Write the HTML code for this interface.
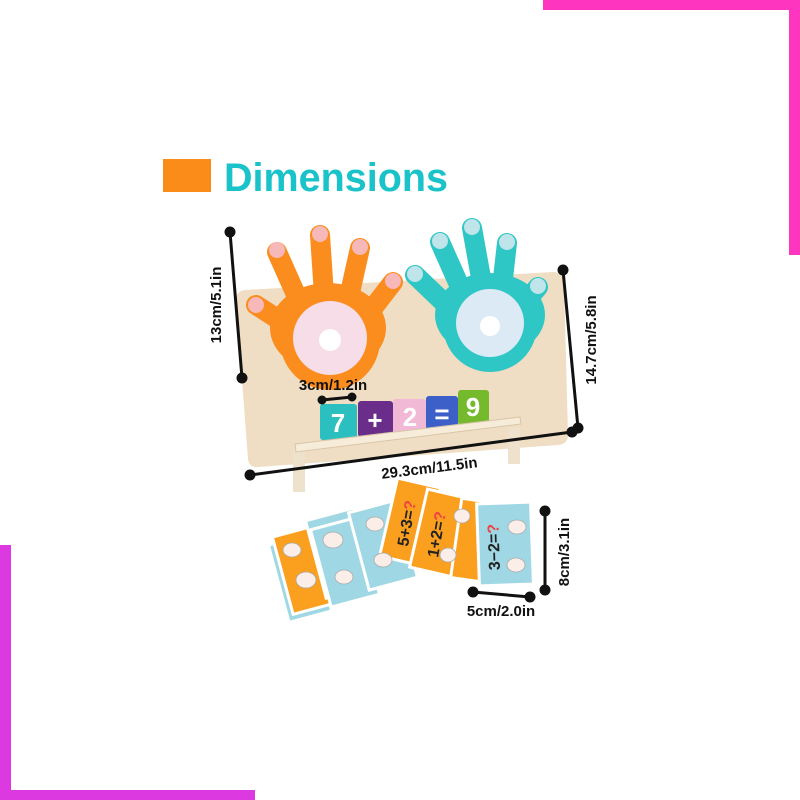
<!DOCTYPE html>
<html><head><meta charset="utf-8"><style>
html,body{margin:0;padding:0;background:#fff;width:800px;height:800px;overflow:hidden}
svg{display:block}
text{font-family:"Liberation Sans",sans-serif;font-weight:bold}
</style></head><body>
<svg width="800" height="800" viewBox="0 0 800 800" xmlns="http://www.w3.org/2000/svg">
<rect x="543" y="0" width="257" height="10" fill="#fe35bf"/>
<rect x="789" y="0" width="11" height="255" fill="#fe35bf"/>
<rect x="0" y="545" width="11" height="255" fill="#dc3ae0"/>
<rect x="0" y="790" width="255" height="10" fill="#dc3ae0"/>

<rect x="163" y="159" width="48" height="33" fill="#fb8c1a"/>
<text x="224" y="191" font-size="40" fill="#1ac3c9" textLength="224" lengthAdjust="spacingAndGlyphs">Dimensions</text>

<!-- board -->
<path d="M245 290 L553 272 Q563 272 564 282 L568 435 Q568 444 558 445 L258 467 Q249 468 248 459 L236 300 Q236 291 245 290 Z" fill="#efdec3"/>
<rect x="293" y="448" width="12" height="44" fill="#efe2cc"/>
<rect x="508" y="428" width="12" height="36" fill="#efe2cc"/>
<!-- orange hand -->
<g stroke="#fb8c1e" stroke-width="20" stroke-linecap="round">
<line x1="295" y1="330" x2="256" y2="305"/>
<line x1="305" y1="315" x2="277" y2="252"/>
<line x1="325" y1="310" x2="320" y2="235"/>
<line x1="345" y1="315" x2="360" y2="248"/>
<line x1="360" y1="325" x2="393" y2="282"/>
</g>
<ellipse cx="328" cy="328" rx="58" ry="45" fill="#fb8c1e"/>
<circle cx="330" cy="340" r="50" fill="#fb8c1e"/>
<circle cx="330" cy="338" r="37" fill="#f6dde8"/>
<circle cx="330" cy="340" r="11" fill="#fff"/>
<g fill="#f6b8b8"><circle cx="256" cy="305" r="8"/><circle cx="277" cy="250" r="8"/><circle cx="320" cy="234" r="8"/><circle cx="360" cy="247" r="8"/><circle cx="393" cy="281" r="8"/></g>
<!-- teal hand -->
<g stroke="#2fc6c6" stroke-width="20" stroke-linecap="round">
<line x1="460" y1="318" x2="415" y2="275"/>
<line x1="468" y1="305" x2="440" y2="242"/>
<line x1="485" y1="300" x2="472" y2="228"/>
<line x1="500" y1="305" x2="507" y2="243"/>
<line x1="512" y1="318" x2="538" y2="287"/>
</g>
<ellipse cx="490" cy="315" rx="55" ry="42" fill="#2fc6c6"/>
<circle cx="490" cy="325" r="47" fill="#2fc6c6"/>
<circle cx="490" cy="323" r="34" fill="#dceaf5"/>
<circle cx="490" cy="326" r="10" fill="#fff"/>
<g fill="#bfe4ea"><circle cx="415" cy="274" r="8"/><circle cx="440" cy="241" r="8"/><circle cx="472" cy="227" r="8"/><circle cx="507" cy="242" r="8"/><circle cx="538" cy="286" r="8"/></g>
<!-- tiles -->
<rect x="320" y="404" width="37" height="36" rx="3" fill="#2cbfc0"/>
<rect x="358" y="401" width="35" height="36" rx="3" fill="#6a2e8a"/>
<rect x="393" y="399" width="33" height="35" rx="3" fill="#f2b9d6"/>
<rect x="426" y="396" width="32" height="35" rx="3" fill="#3c5fc8"/>
<rect x="458" y="390" width="31" height="35" rx="3" fill="#74ba2c"/>
<g fill="#fff" font-size="26" text-anchor="middle">
<text x="338" y="432">7</text><text x="375" y="429">+</text><text x="410" y="426">2</text><text x="442" y="423">=</text><text x="473" y="416">9</text></g>
<polygon points="295,444 520,417 521,424 296,452" fill="#f7ecd9" stroke="#d8c6a8" stroke-width="1"/>
<!-- dims -->
<g stroke="#111" stroke-width="3" fill="#111">
<line x1="230" y1="232" x2="242" y2="378"/><circle cx="230" cy="232" r="4"/><circle cx="242" cy="378" r="4"/>
<line x1="563" y1="270" x2="578" y2="428"/><circle cx="563" cy="270" r="4"/><circle cx="578" cy="428" r="4"/>
<line x1="250" y1="475" x2="572" y2="432"/><circle cx="250" cy="475" r="4"/><circle cx="572" cy="432" r="4"/>
<line x1="322" y1="400" x2="352" y2="397"/><circle cx="322" cy="400" r="3"/><circle cx="352" cy="397" r="3"/>
<line x1="545" y1="511" x2="545" y2="590"/><circle cx="545" cy="511" r="4"/><circle cx="545" cy="590" r="4"/>
<line x1="473" y1="592" x2="530" y2="597"/><circle cx="473" cy="592" r="4"/><circle cx="530" cy="597" r="4"/>
</g>
<g fill="#111" font-size="15">
<text transform="translate(221,305) rotate(-90)" text-anchor="middle">13cm/5.1in</text>
<text transform="translate(596,340) rotate(-90)" text-anchor="middle">14.7cm/5.8in</text>
<text transform="translate(430,473) rotate(-7)" text-anchor="middle">29.3cm/11.5in</text>
<text x="333" y="390" text-anchor="middle">3cm/1.2in</text>
<text transform="translate(569,552) rotate(-90)" text-anchor="middle">8cm/3.1in</text>
<text x="501" y="616" text-anchor="middle">5cm/2.0in</text>
</g>
<!-- cards -->
<g stroke="#fff" stroke-width="3">
<rect x="-22" y="-40" width="44" height="80" fill="#9fd8e4" transform="translate(300,578) rotate(-15)"/>
<rect x="-22" y="-40" width="44" height="80" fill="#fb9f1e" transform="translate(304,570) rotate(-15)"/>
<rect x="-25" y="-40" width="50" height="80" fill="#9fd8e4" transform="translate(340,553) rotate(-15)"/>
<rect x="-25" y="-40" width="50" height="80" fill="#9fd8e4" transform="translate(345,562) rotate(-15)"/>
<rect x="-25" y="-40" width="50" height="80" fill="#9fd8e4" transform="translate(383,545) rotate(-15)"/>
<rect x="-22" y="-40" width="44" height="80" fill="#fb9f1e" transform="translate(410,522) rotate(13)"/>
<rect x="-22" y="-40" width="44" height="80" fill="#fb9f1e" transform="translate(440,533) rotate(13)"/>
<rect x="-22" y="-40" width="44" height="80" fill="#fb9f1e" transform="translate(478,541) rotate(8)"/>
<rect x="-27" y="-41" width="54" height="82" fill="#9fd8e4" transform="translate(505,544) rotate(-2)"/>
</g>
<g fill="#222" font-size="16">
<text transform="translate(408,547) rotate(-80)">5+3=<tspan fill="#e44">?</tspan></text>
<text transform="translate(438,558) rotate(-80)">1+2=<tspan fill="#e44">?</tspan></text>
<text transform="translate(500,570) rotate(-92)">3−2=<tspan fill="#e44">?</tspan></text>
</g>
<g fill="#fbeee8" stroke="#aaa" stroke-width="0.8">
<ellipse cx="292" cy="550" rx="9" ry="7"/><ellipse cx="306" cy="580" rx="10" ry="8"/>
<ellipse cx="333" cy="540" rx="10" ry="8"/><ellipse cx="344" cy="577" rx="9" ry="7"/>
<ellipse cx="375" cy="524" rx="9" ry="7"/><ellipse cx="383" cy="560" rx="9" ry="7"/>
<ellipse cx="462" cy="516" rx="8" ry="7"/><ellipse cx="448" cy="555" rx="8" ry="7"/>
<ellipse cx="517" cy="527" rx="9" ry="7"/><ellipse cx="516" cy="565" rx="9" ry="7"/>
</g>
</svg>
</body></html>
